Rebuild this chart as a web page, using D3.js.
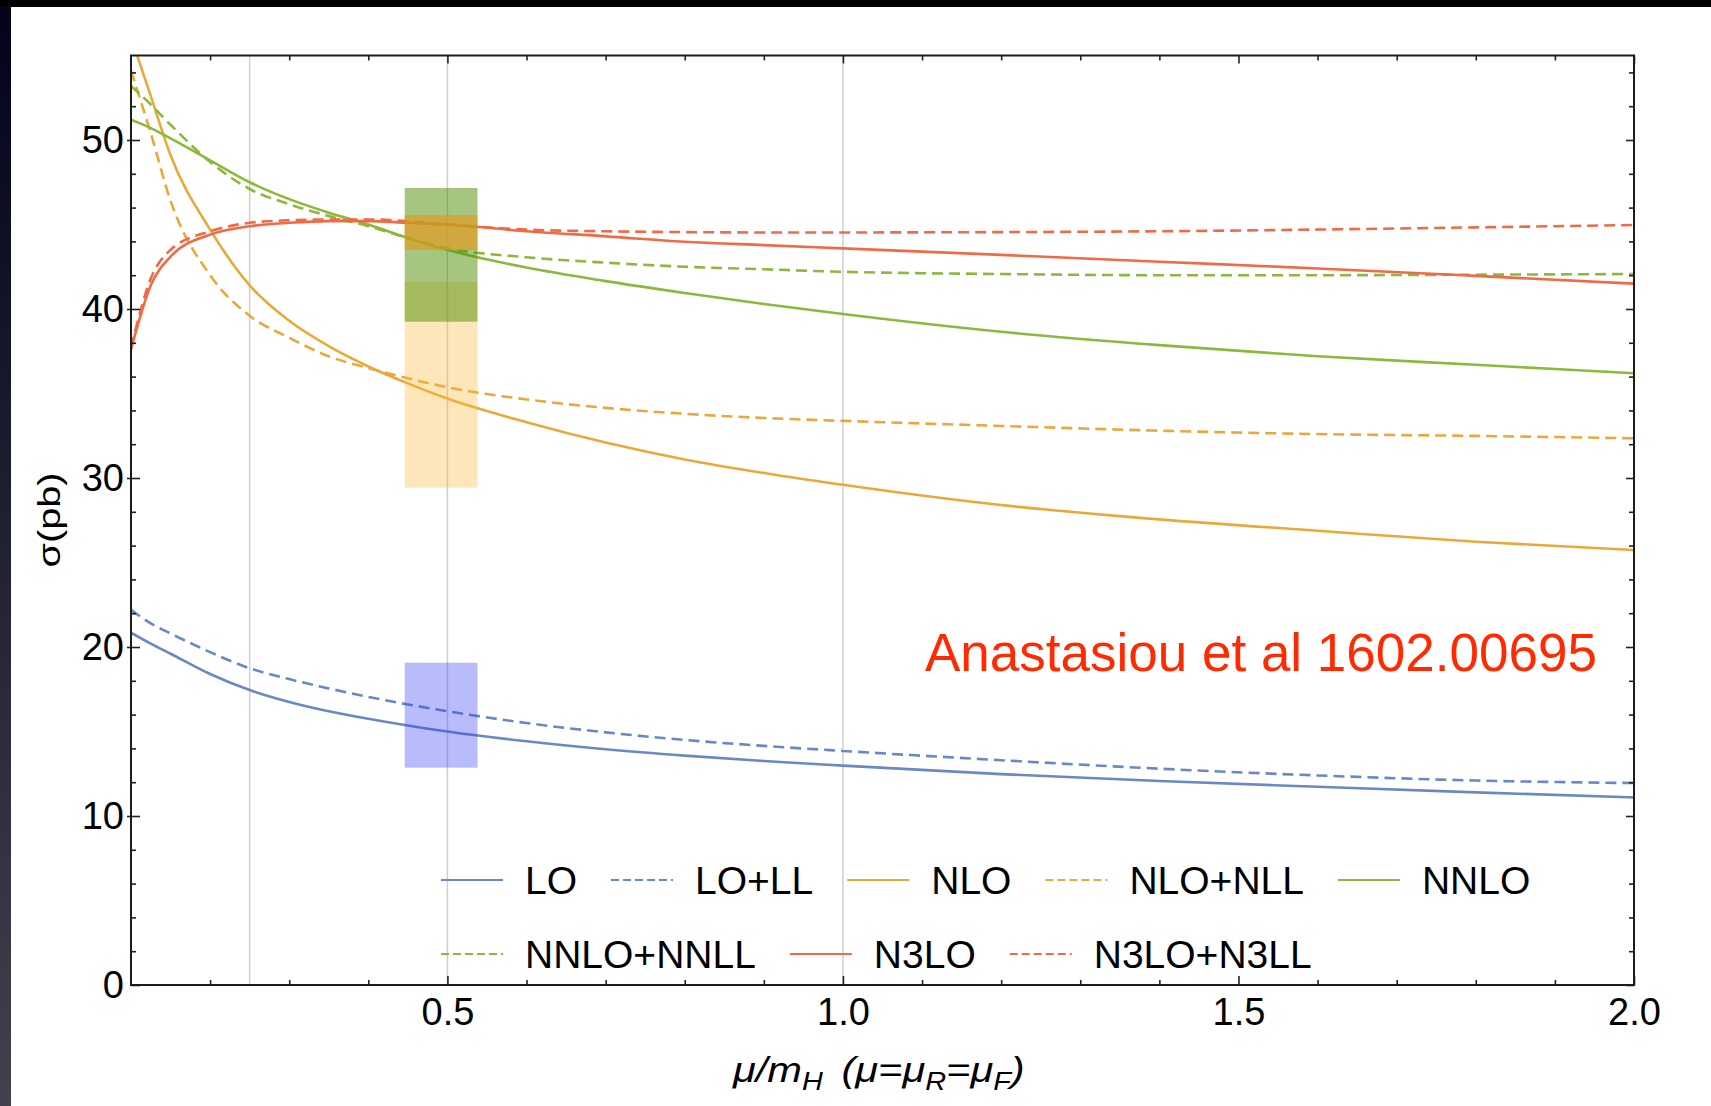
<!DOCTYPE html>
<html>
<head>
<meta charset="utf-8">
<script src="https://cdn.jsdelivr.net/npm/d3@7"></script>
<style>
  body { margin: 0; background: #000; }
  svg { display: block; }
</style>
</head>
<body>
<div id="chart"></div>
<script>
// scale variation mu/mH
var muPoints = [0.1, 0.125, 0.15, 0.2, 0.25, 0.3, 0.35, 0.4, 0.45, 0.5, 0.6, 0.7, 0.8, 0.9, 1.0, 1.2, 1.4, 1.6, 1.8, 2.0];

var sigmaLO       = [20.85, 20.2, 19.6, 18.4, 17.45, 16.75, 16.2, 15.75, 15.35, 15.0, 14.42, 13.95, 13.57, 13.25, 12.98, 12.48, 12.07, 11.73, 11.4, 11.1];
var sigmaLOLL     = [22.2, 21.4, 20.8, 19.7, 18.74, 18.1, 17.55, 17.05, 16.6, 16.2, 15.5, 14.95, 14.5, 14.15, 13.85, 13.3, 12.8, 12.4, 12.1, 11.95];
var sigmaNLO      = [56.1, 52.6, 49.1, 44.7, 41.4, 39.3, 37.8, 36.6, 35.6, 34.7, 33.3, 32.1, 31.1, 30.3, 29.6, 28.4, 27.55, 26.88, 26.23, 25.74];
var sigmaNLONLL   = [54.1, 50.4, 46.4, 42.0, 39.6, 38.3, 37.2, 36.5, 35.9, 35.37, 34.65, 34.15, 33.8, 33.55, 33.38, 33.08, 32.8, 32.6, 32.49, 32.35];
var sigmaNNLO     = [51.2, 50.7, 50.1, 48.8, 47.5, 46.5, 45.7, 45.0, 44.2, 43.5, 42.45, 41.65, 40.95, 40.3, 39.7, 38.65, 37.86, 37.2, 36.7, 36.2];
var sigmaNNLONNLL = [53.2, 52.1, 50.9, 48.7, 47.1, 46.2, 45.5, 44.9, 44.2, 43.6, 43.06, 42.74, 42.5, 42.35, 42.2, 42.07, 42.0, 42.0, 42.03, 42.07];
var sigmaN3LO     = [37.6, 41.4, 43.1, 44.4, 44.9, 45.1, 45.2, 45.2, 45.1, 45.0, 44.6, 44.3, 43.98, 43.78, 43.59, 43.2, 42.8, 42.4, 41.96, 41.5];
var sigmaN3LON3LL = [37.7, 41.8, 43.5, 44.6, 45.1, 45.25, 45.3, 45.3, 45.2, 45.0, 44.7, 44.6, 44.55, 44.53, 44.53, 44.55, 44.6, 44.7, 44.83, 44.97];

var seriesNames = ["LO", "LO+LL", "NLO", "NLO+NLL", "NNLO", "NNLO+NNLL", "N3LO", "N3LO+N3LL"];

// uncertainty bands around mu = mH/2
var bandMu   = [0.446, 0.538];
var bandLow  = [29.43, 39.25, 43.49, 12.86];
var bandHigh = [41.6, 47.16, 45.56, 19.07];

var xMajorTicks = [0.5, 1.0, 1.5, 2.0];
var xMinorTicks = [0.2, 0.3, 0.4, 0.6, 0.7, 0.8, 0.9, 1.1, 1.2, 1.3, 1.4, 1.6, 1.7, 1.8, 1.9];
var yMajorTicks = [0, 10, 20, 30, 40, 50];
var yMinorTicks = [2, 4, 6, 8, 12, 14, 16, 18, 22, 24, 26, 28, 32, 34, 36, 38, 42, 44, 46, 48, 52, 54];
var gridMu = [0.25, 0.5, 1.0];

var note = "Anastasiou et al 1602.00695";

// ---- styles
var seriesValues = [sigmaLO, sigmaLOLL, sigmaNLO, sigmaNLONLL, sigmaNNLO, sigmaNNLONNLL, sigmaN3LO, sigmaN3LON3LL];
var seriesColor = ["#6889c6", "#6889c6", "#e9a93a", "#e9a93a", "#8cb83c", "#8cb83c", "#ef6a45", "#ef6a45"];
var seriesDashed = [false, true, false, true, false, true, false, true];
var bandFill = ["#f9b837", "rgb(77,141,0)", "#e19c24", "#3440f1"];
var bandOpacity = [0.35, 0.5, 0.7, 0.35];

var W = 1711, H = 1106;
var font = "'Liberation Sans', Arial, Helvetica, sans-serif";

var svg = d3.select("#chart").append("svg")
    .attr("width", W)
    .attr("height", H);

// slide background: black top band, dark gradient strip on the left
var defs = svg.append("defs");
var grad = defs.append("linearGradient")
    .attr("id", "side").attr("x1", 0).attr("y1", 0).attr("x2", 0).attr("y2", 1);
grad.append("stop").attr("offset", "0%").attr("stop-color", "#03031a");
grad.append("stop").attr("offset", "100%").attr("stop-color", "#41414f");

svg.append("rect").attr("width", W).attr("height", H).attr("fill", "#000");
svg.append("rect").attr("x", 0).attr("y", 7).attr("width", 11).attr("height", H - 7).attr("fill", "url(#side)");
svg.append("rect").attr("x", 11).attr("y", 7).attr("width", W - 11).attr("height", H - 7).attr("fill", "#fff");

var x = d3.scaleLinear().domain([0.1, 2.0]).range([131, 1634]);
var y = d3.scaleLinear().domain([0, 55]).range([985, 55.5]);

defs.append("clipPath").attr("id", "plotArea")
  .append("rect")
    .attr("x", x.range()[0]).attr("y", y.range()[1])
    .attr("width", x.range()[1] - x.range()[0])
    .attr("height", y.range()[0] - y.range()[1]);

// grid lines
svg.append("g").selectAll("line")
  .data(gridMu)
  .enter().append("line")
    .attr("x1", function(d) { return x(d); })
    .attr("x2", function(d) { return x(d); })
    .attr("y1", y(55))
    .attr("y2", y(0))
    .attr("stroke", "#cfcfcf")
    .attr("stroke-width", 1.5);

// curves
var line = d3.line()
    .x(function(d) { return x(d[0]); })
    .y(function(d) { return y(d[1]); })
    .curve(d3.curveMonotoneX);

var curves = svg.append("g").attr("clip-path", "url(#plotArea)");
seriesValues.forEach(function(vals, i) {
  curves.append("path")
    .datum(muPoints.map(function(m, j) { return [m, vals[j]]; }))
    .attr("fill", "none")
    .attr("stroke", seriesColor[i])
    .attr("stroke-width", 2.6)
    .attr("stroke-dasharray", seriesDashed[i] ? "11,6" : null)
    .attr("d", line);
});

// bands
svg.append("g").selectAll("rect")
  .data(bandLow)
  .enter().append("rect")
    .attr("x", x(bandMu[0]))
    .attr("width", x(bandMu[1]) - x(bandMu[0]))
    .attr("y", function(d, i) { return y(bandHigh[i]); })
    .attr("height", function(d, i) { return y(d) - y(bandHigh[i]); })
    .attr("fill", function(d, i) { return bandFill[i]; })
    .attr("fill-opacity", function(d, i) { return bandOpacity[i]; });

// frame ticks (inward, Mathematica style)
function styleAxis(g) {
  g.select(".domain").remove();
  g.selectAll(".tick line").attr("stroke", "#222").attr("stroke-width", 1.6);
  g.attr("font-family", font).attr("font-size", 38);
  g.selectAll("text").attr("fill", "#000");
}

svg.append("g")
    .attr("transform", "translate(0," + y(0) + ")")
    .call(d3.axisBottom(x).tickValues(xMajorTicks).tickSize(-9).tickPadding(13).tickFormat(d3.format(".1f")))
    .call(styleAxis);
svg.append("g")
    .attr("transform", "translate(0," + y(0) + ")")
    .call(d3.axisBottom(x).tickValues(xMinorTicks).tickSize(-5).tickFormat(""))
    .call(styleAxis);
svg.append("g")
    .attr("transform", "translate(0," + y(55) + ")")
    .call(d3.axisTop(x).tickValues(xMajorTicks).tickSize(-8).tickFormat(""))
    .call(styleAxis);
svg.append("g")
    .attr("transform", "translate(0," + y(55) + ")")
    .call(d3.axisTop(x).tickValues(xMinorTicks).tickSize(-5).tickFormat(""))
    .call(styleAxis);

svg.append("g")
    .attr("transform", "translate(" + x(0.1) + ",0)")
    .call(d3.axisLeft(y).tickValues(yMajorTicks).tickSize(-9).tickPadding(7).tickFormat(d3.format("d")))
    .call(styleAxis);
svg.append("g")
    .attr("transform", "translate(" + x(0.1) + ",0)")
    .call(d3.axisLeft(y).tickValues(yMajorTicks.filter(function(d) { return d > 0; })).tickSize(4).tickFormat(""))
    .call(styleAxis);
svg.append("g")
    .attr("transform", "translate(" + x(0.1) + ",0)")
    .call(d3.axisLeft(y).tickValues(yMinorTicks).tickSize(-5).tickFormat(""))
    .call(styleAxis);
svg.append("g")
    .attr("transform", "translate(" + x(2.0) + ",0)")
    .call(d3.axisRight(y).tickValues(yMajorTicks).tickSize(-8).tickFormat(""))
    .call(styleAxis);
svg.append("g")
    .attr("transform", "translate(" + x(2.0) + ",0)")
    .call(d3.axisRight(y).tickValues(yMinorTicks).tickSize(-5).tickFormat(""))
    .call(styleAxis);

// frame
svg.append("rect")
    .attr("x", x(0.1)).attr("y", y(55))
    .attr("width", x(2.0) - x(0.1))
    .attr("height", y(0) - y(55))
    .attr("fill", "none")
    .attr("stroke", "#1c1c1c")
    .attr("stroke-width", 2);

// axis labels
var xl = svg.append("text")
    .attr("x", 733).attr("y", 1082)
    .attr("font-family", font)
    .attr("font-size", 36)
    .attr("font-style", "italic")
    .attr("fill", "#000");
xl.append("tspan").text("\u03bc/m");
xl.append("tspan").attr("font-size", 25).attr("dy", 8).text("H");
xl.append("tspan").attr("dy", -8).attr("dx", 16).text("(\u03bc=\u03bc");
xl.append("tspan").attr("font-size", 25).attr("dy", 8).text("R");
xl.append("tspan").attr("dy", -8).text("=\u03bc");
xl.append("tspan").attr("font-size", 25).attr("dy", 8).text("F");
xl.append("tspan").attr("dy", -8).text(")");
var xb = xl.node().getBBox();
xl.attr("transform", "translate(733,0) scale(" + (293 / xb.width) + ",1) translate(-733,0)");

var yl = svg.append("text")
    .attr("font-family", font)
    .attr("font-size", 31)
    .attr("fill", "#000")
    .attr("text-anchor", "middle")
    .attr("dy", "0.35em")
    .text("\u03c3(pb)");
var yb = yl.node().getBBox();
yl.attr("transform", "translate(49,520) rotate(-90) scale(" + (95 / yb.width) + ",1)");

// legend, two rows
var legendRows = [seriesNames.slice(0, 5), seriesNames.slice(5)];
var legendY = [880, 954];
legendRows.forEach(function(row, r) {
  var cx = 441;
  row.forEach(function(name) {
    var i = seriesNames.indexOf(name);
    var g = svg.append("g");
    g.append("line")
      .attr("x1", cx).attr("x2", cx + 62)
      .attr("y1", legendY[r]).attr("y2", legendY[r])
      .attr("stroke", seriesColor[i])
      .attr("stroke-width", 2.2)
      .attr("stroke-dasharray", seriesDashed[i] ? "8,4" : null);
    var t = g.append("text")
      .attr("x", cx + 84).attr("y", legendY[r])
      .attr("dy", "0.36em")
      .attr("font-family", font)
      .attr("font-size", 39)
      .attr("fill", "#000")
      .text(name);
    cx = cx + 84 + t.node().getComputedTextLength() + 34;
  });
});

// reference note
svg.append("text")
    .attr("x", 925).attr("y", 671)
    .attr("font-family", font)
    .attr("font-size", 53)
    .attr("fill", "#ff2a00")
    .text(note);
</script>
</body>
</html>
